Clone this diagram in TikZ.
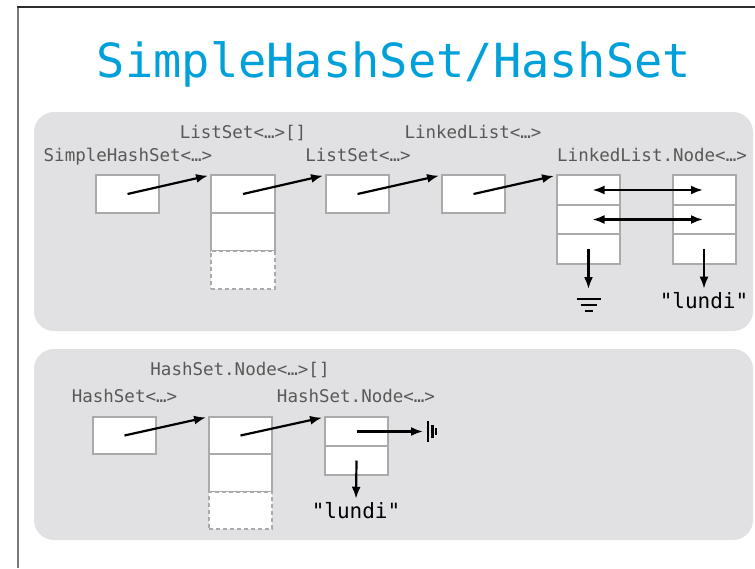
\documentclass[tikz,border=0pt]{standalone}
\usepackage{fontspec}
\newfontfamily\codefont{DejaVu Sans Mono}
\usetikzlibrary{positioning,arrows.meta}
\definecolor{titleblue}{RGB}{0,160,218}
\definecolor{panelgray}{RGB}{225,225,227}
\definecolor{cellgray}{RGB}{170,170,170}
\definecolor{labelgray}{RGB}{88,88,88}
\definecolor{framegray}{RGB}{120,120,120}
\definecolor{framedark}{RGB}{45,45,45}
\tikzset{
  cell/.style={draw=cellgray,fill=white,line width=2pt,inner sep=0pt,outer sep=0pt,minimum width=63pt,minimum height=38pt},
  nodecell/.style={cell,minimum height=29.5pt},
  spare/.style={cell,dash pattern=on 4pt off 3pt},
  tname/.style={font=\codefont\fontsize{17.5}{20}\selectfont,text=labelgray,anchor=base,inner sep=0pt},
  str/.style={font=\codefont\fontsize{21}{24}\selectfont,anchor=base,inner sep=0pt},
  ptr/.style={->,line width=2.2pt,shorten >=3pt},
  nullbar/.style={line width=2.2pt},
}
\begin{document}
\begin{tikzpicture}[x=1pt,y=-1pt,>={Latex[length=12pt,width=9pt]}]
\useasboundingbox (0,0) rectangle (755,568);
\draw[framegray,line width=2.5pt] (18,7) -- (18,568);
\draw[framedark,line width=1.5pt] (17,7) -- (755,7);

\fill[panelgray,rounded corners=20pt] (34,112) rectangle (753,331);
\fill[panelgray,rounded corners=20pt] (34,349) rectangle (753,540);

\node[font=\codefont\fontsize{47}{54}\selectfont,text=titleblue,anchor=base] (title) at (394,77) {SimpleHashSet/HashSet};

\node[cell] (shs) at (127.5,194) {};
\node[cell,minimum width=64pt] (ta1) at (243,194) {};
\node[cell,minimum width=64pt,below=0pt of ta1] (ta2) {};
\node[spare,minimum width=64pt,below=0pt of ta2] (ta3) {};
\node[cell] (ls) at (357.5,194) {};
\node[cell] (ll) at (473.5,194) {};
\node[nodecell] (la1) at (588.5,190) {};
\node[nodecell,below=0pt of la1] (la2) {};
\node[nodecell,below=0pt of la2] (la3) {};
\node[nodecell] (lb1) at (704,190) {};
\node[nodecell,below=0pt of lb1] (lb2) {};
\node[nodecell,below=0pt of lb2] (lb3) {};

\node[tname] (shsname) at (128,161) {SimpleHashSet<…>};
\node[tname] (taname) at (243,138) {ListSet<…>[]};
\node[tname] (lsname) at (358,161) {ListSet<…>};
\node[tname] (llname) at (473,138) {LinkedList<…>};
\node[tname,anchor=base west] (laname) at (557,161) {LinkedList.Node<…>};
\node[str] (s1) at (704,308) {"lundi"};
\coordinate (gnd) at (588.5,289);

\draw[ptr] (shs.center) -- (ta1.north west);
\draw[ptr] (ta1.center) -- (ls.north west);
\draw[ptr] (ls.center) -- (ll.north west);
\draw[ptr] (ll.center) -- (la1.north west);
\draw[ptr,<->,shorten <=4pt,shorten >=1pt] (la1.center) -- (lb1.center);
\draw[ptr,<->,shorten <=4pt,shorten >=1pt] (la2.center) -- (lb2.center);
\draw[ptr,shorten >=0pt] (la3.center) -- (gnd);
\draw[ptr] (lb3.center) -- (s1.north);
\foreach \d/\w in {10/12,16/8,22/4}
  \draw[nullbar] (gnd) ++(-\w,\d) -- ++(2*\w,0);

\node[cell,minimum height=37pt] (hs) at (124.5,435.5) {};
\node[cell,minimum height=37.5pt] (hb1) at (240.5,435.5) {};
\node[cell,minimum height=37.5pt,below=0pt of hb1] (hb2) {};
\node[spare,minimum height=37.5pt,below=0pt of hb2] (hb3) {};
\node[nodecell,minimum height=29pt] (hn1) at (356.5,431.5) {};
\node[nodecell,minimum height=29pt,below=0pt of hn1] (hn2) {};

\node[tname] (hbname) at (240,375) {HashSet.Node<…>[]};
\node[tname] (hsname) at (124.5,402) {HashSet<…>};
\node[tname] (hnname) at (356,402) {HashSet.Node<…>};
\node[str] (s2) at (356,518) {"lundi"};
\coordinate (nul) at (423,431.5);

\draw[ptr] (hs.center) -- (hb1.north west);
\draw[ptr] (hb1.center) -- (hn1.north west);
\draw[ptr,shorten >=0pt] (hn1.center) -- (nul);
\draw[ptr] (hn2.center) -- (s2.north);
\foreach \d/\h in {5/10.5,9.5/6.5,13/3.5}
  \draw[nullbar] (nul) ++(\d,-\h) -- ++(0,2*\h);
\end{tikzpicture}
\end{document}
